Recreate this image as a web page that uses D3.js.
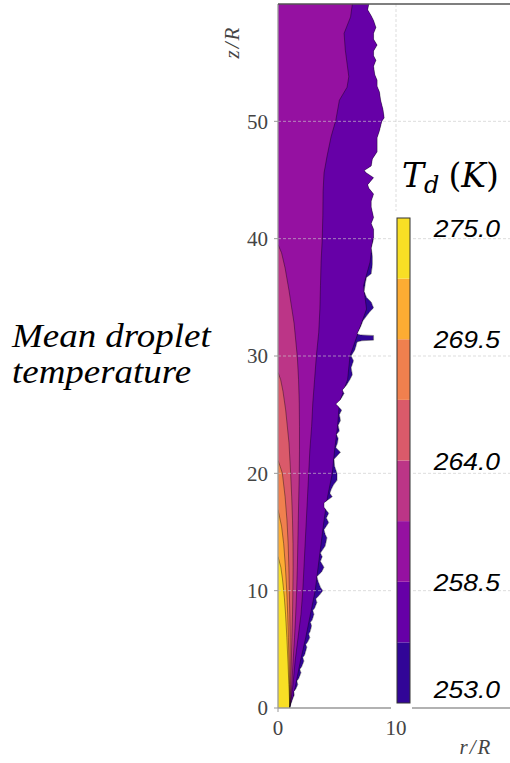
<!DOCTYPE html>
<html>
<head>
<meta charset="utf-8">
<script src="https://cdn.jsdelivr.net/npm/d3@7"></script>
<style>
body { margin: 0; background: white; }
</style>
</head>
<body>
<div id="chart"></div>
<script>
// contour levels of the mean droplet temperature (K), 8 filled bands
var levels = [253, 255.75, 258.5, 261.25, 264, 266.75, 269.5, 272.25, 275];
var cbar_ticks = [253.0, 258.5, 264.0, 269.5, 275.0];
var r_ticks = [0, 10];
var z_ticks = [0, 10, 20, 30, 40, 50];

// outer edge of the spray, pairs of [z/R, r/R]
var spray_edge = [
  [0, 1.02], [0.3, 1.08], [0.8, 1.25], [1.1, 1.38], [1.4, 1.34], [1.6, 1.5], [2, 1.68], [2.3, 1.6],
  [2.5, 1.75], [3, 1.95], [3.3, 1.85], [3.5, 2.0], [4, 2.2], [4.3, 2.1], [4.5, 2.25], [5.2, 2.45],
  [5.4, 2.35], [5.6, 2.5], [6, 2.7], [6.3, 2.6], [6.5, 2.72], [7, 2.85], [7.3, 2.75], [7.5, 2.9],
  [8, 3.05], [8.3, 2.95], [8.5, 3.1], [9, 3.3], [9.3, 3.2], [9.6, 3.5], [10, 3.8], [10.3, 3.6],
  [10.8, 3.4], [11.2, 3.3], [11.6, 3.7], [12, 3.9], [12.5, 3.6], [12.9, 3.75], [13.2, 3.6],
  [13.8, 4.0], [14.5, 4.15], [14.8, 4.0], [15.2, 3.9], [15.8, 4.3], [16.2, 4.1], [16.6, 4.3],
  [17.1, 3.9], [17.5, 3.9], [18, 4.6], [18.3, 4.4], [18.6, 4.5], [19, 4.7], [19.4, 5.0],
  [20, 5.0], [20.6, 4.8], [21.2, 4.75], [21.8, 5.3], [22.2, 4.9], [22.6, 5.05], [23, 5.1],
  [23.3, 4.95], [23.6, 5.2], [24.1, 5.1], [24.5, 5.3], [25, 5.2], [25.4, 5.4], [25.9, 4.9],
  [26.3, 5.3], [26.8, 5.6], [27.1, 5.45], [27.5, 5.8], [28, 6.1], [28.4, 6.3], [29, 6.2],
  [29.6, 6.4], [30, 6.2], [30.5, 6.5], [30.8, 6.6], [31.2, 6.7], [31.3, 7.1], [31.35, 8.1],
  [31.75, 8.1], [31.8, 7.0], [31.9, 6.7], [32.5, 7.0], [33, 7.2], [33.4, 7.5], [33.8, 7.8],
  [34.1, 8.1], [34.6, 7.9], [35, 7.5], [35.5, 7.3], [36.2, 7.4], [36.7, 7.5], [37, 7.9],
  [37.8, 8.0], [38.5, 8.0], [39.2, 7.9], [40, 8.1], [40.8, 8.1], [41.3, 7.9], [41.8, 8.1],
  [42.7, 7.9], [43.2, 7.9], [43.8, 8.1], [44.3, 7.7], [44.6, 7.6], [45.2, 8.1], [45.6, 7.5],
  [45.8, 7.3], [46.2, 7.9], [46.8, 8.0], [47.4, 8.4], [48, 8.4], [48.6, 8.4], [49.2, 8.6],
  [50, 8.8], [50.3, 9.0], [51, 8.9], [51.8, 8.7], [52.5, 8.6], [53, 8.4], [53.5, 8.4],
  [54, 8.2], [54.7, 8.1], [55.2, 8.3], [55.6, 8.1], [56, 8.1], [56.5, 8.4], [57, 8.1],
  [57.5, 8.1], [58, 8.3], [58.6, 8.1], [59, 7.9], [59.5, 7.6], [60, 7.7]
];

// level boundaries, [z/R, r/R]; hotter band lies inside
var bound_255 = [[0, 1.0], [1, 1.3], [2, 1.5], [4, 1.9], [6, 2.35], [8, 2.75], [10, 3.15],
  [12, 3.4], [14, 3.65], [16, 3.9], [18, 4.2], [20, 4.6], [22, 4.8], [24, 5.05], [26, 5.2],
  [28, 5.9], [30, 6.1], [32, 6.8], [34, 7.5], [36, 7.25], [38, 7.8], [40, 8.05], [41, 9.6], [60, 9.6]];
var bound_258 = [[0, 1.0], [1, 1.15], [2, 1.27], [4, 1.45], [6, 1.7], [8, 1.95], [10, 2.1],
  [12, 2.2], [14, 2.3], [16, 2.4], [18, 2.5], [20, 2.6], [22, 2.7], [24, 2.85], [26, 2.95],
  [28, 3.1], [30, 3.25], [32, 3.45], [34, 3.55], [36, 3.6], [38, 3.65], [40, 3.75], [42, 3.8],
  [44, 3.82], [45.6, 3.9], [47, 4.15], [48.7, 4.5], [50.1, 4.9], [51.8, 5.2], [52.9, 5.85],
  [53.8, 6.0], [56.1, 5.7], [57.5, 5.6], [58.9, 6.15], [60, 6.3]];
var bound_261 = [[0, 1.0], [1, 1.1], [2, 1.17], [4, 1.28], [6, 1.4], [8, 1.5], [10, 1.58],
  [12, 1.64], [14, 1.68], [16, 1.72], [18, 1.76], [20, 1.8], [22, 1.82], [24, 1.82], [26, 1.8],
  [28, 1.74], [29.9, 1.64], [32.8, 1.36], [35.6, 0.93], [37.5, 0.6], [38.8, 0.3], [39.5, 0]];
var bound_264 = [[0, 1.0], [1, 1.05], [2, 1.08], [4, 1.13], [6, 1.18], [8, 1.23], [10, 1.26],
  [12, 1.28], [14, 1.27], [16, 1.23], [18, 1.16], [20, 1.07], [22.6, 0.93], [25.4, 0.65],
  [27, 0.42], [28, 0.22], [28.6, 0]];
var bound_266 = [[0, 1.0], [2, 1.02], [4, 1.03], [6, 1.03], [8, 1.0], [10, 0.96], [12, 0.92],
  [14, 0.86], [16, 0.76], [18, 0.6], [20, 0.37], [20.6, 0.18], [21.1, 0]];
var bound_269 = [[0, 1.0], [2, 0.97], [4, 0.93], [6, 0.88], [8, 0.82], [10, 0.74], [12, 0.63],
  [14, 0.48], [15.5, 0.3], [16.9, 0]];
var bound_272 = [[0, 1.0], [1, 0.96], [2, 0.92], [4, 0.84], [6, 0.75], [8, 0.64], [9.4, 0.54],
  [10, 0.48], [11, 0.38], [12, 0.24], [12.9, 0]];

var boundaries = [bound_255, bound_258, bound_261, bound_264, bound_266, bound_269, bound_272];

function draw_chart() {

  var width = 510,
      height = 763;

  var svg = d3.select("#chart").append("svg")
      .attr("width", width)
      .attr("height", height);

  var x = d3.scaleLinear().domain([0, 20]).range([278, 514]);
  var y = d3.scaleLinear().domain([0, 60]).range([708, 4]);
  var cb = d3.scaleLinear().domain([253, 275]).range([703, 218]);

  var serif = "'Liberation Serif', 'Times New Roman', serif";

  function band_color(i) {
    var mid = (levels[i] + levels[i + 1]) / 2;
    return d3.interpolatePlasma((mid - 253) / 22);
  }

  var area = d3.area()
      .x0(x(0))
      .x1(function(d) { return x(d[1]); })
      .y(function(d) { return y(d[0]); });

  var line = d3.line()
      .x(function(d) { return x(d[1]); })
      .y(function(d) { return y(d[0]); });

  svg.append("clipPath").attr("id", "spray")
    .append("path").attr("d", area(spray_edge));

  var g = svg.append("g").attr("clip-path", "url(#spray)");

  // filled bands, coolest first
  [spray_edge].concat(boundaries).forEach(function(b, i) {
    g.append("path")
      .attr("d", area(b))
      .attr("fill", band_color(i));
  });

  boundaries.forEach(function(b) {
    g.append("path")
      .attr("d", line(b))
      .attr("fill", "none")
      .attr("stroke", "#000")
      .attr("stroke-width", 0.5)
      .attr("opacity", 0.75);
  });

  svg.append("path")
    .attr("d", line(spray_edge))
    .attr("fill", "none")
    .attr("stroke", "#000")
    .attr("stroke-width", 0.6)
    .attr("opacity", 0.6);

  // grid
  svg.selectAll(".hgrid").data(z_ticks.slice(1)).enter().append("line")
    .attr("x1", x(0)).attr("x2", width)
    .attr("y1", function(d) { return y(d); }).attr("y2", function(d) { return y(d); })
    .attr("stroke", "#ccc").attr("stroke-width", 0.8)
    .attr("stroke-dasharray", "3,2").attr("opacity", 0.8);

  svg.selectAll(".vgrid").data(r_ticks.slice(1)).enter().append("line")
    .attr("x1", function(d) { return x(d); }).attr("x2", function(d) { return x(d); })
    .attr("y1", y(60)).attr("y2", y(0))
    .attr("stroke", "#ccc").attr("stroke-width", 0.8)
    .attr("stroke-dasharray", "3,2").attr("opacity", 0.8);

  // spines
  svg.append("line").attr("x1", x(0)).attr("x2", x(0)).attr("y1", y(0)).attr("y2", y(60))
    .attr("stroke", "#999").attr("stroke-width", 1.3);
  svg.append("line").attr("x1", x(0)).attr("x2", width).attr("y1", y(0)).attr("y2", y(0))
    .attr("stroke", "#999").attr("stroke-width", 1.3);
  svg.append("line").attr("x1", x(0)).attr("x2", width).attr("y1", y(60)).attr("y2", y(60))
    .attr("stroke", "#555").attr("stroke-width", 1.3);

  // ticks
  svg.selectAll(".ytick").data(z_ticks).enter().append("line")
    .attr("x1", x(0) - 4).attr("x2", x(0))
    .attr("y1", function(d) { return y(d); }).attr("y2", function(d) { return y(d); })
    .attr("stroke", "#999");

  svg.selectAll(".ylab").data(z_ticks).enter().append("text")
    .attr("x", x(0) - 10)
    .attr("y", function(d) { return y(d); })
    .attr("dy", "0.35em")
    .attr("text-anchor", "end")
    .attr("font-family", serif)
    .attr("font-size", "21px")
    .attr("fill", "#444")
    .text(function(d) { return d; });

  svg.selectAll(".xtick").data(r_ticks).enter().append("line")
    .attr("x1", function(d) { return x(d); }).attr("x2", function(d) { return x(d); })
    .attr("y1", y(0)).attr("y2", y(0) + 4)
    .attr("stroke", "#999");

  svg.selectAll(".xlab").data(r_ticks).enter().append("text")
    .attr("x", function(d) { return x(d); })
    .attr("y", y(0) + 27)
    .attr("text-anchor", "middle")
    .attr("font-family", serif)
    .attr("font-size", "21px")
    .attr("fill", "#444")
    .text(function(d) { return d; });

  // axis labels
  svg.append("text")
    .attr("transform", "translate(239,42) rotate(-90)")
    .attr("text-anchor", "middle")
    .attr("font-family", serif)
    .attr("font-style", "italic")
    .attr("font-size", "21px")
    .attr("letter-spacing", "2px")
    .attr("fill", "#444")
    .text("z/R");

  svg.append("text")
    .attr("x", 476).attr("y", 754)
    .attr("text-anchor", "middle")
    .attr("font-family", serif)
    .attr("font-style", "italic")
    .attr("font-size", "21px")
    .attr("letter-spacing", "2px")
    .attr("fill", "#444")
    .text("r/R");

  // colorbar
  svg.append("rect")
    .attr("x", 391).attr("y", 211)
    .attr("width", 21).attr("height", 502)
    .attr("fill", "white");

  svg.selectAll(".cband").data(d3.range(levels.length - 1)).enter().append("rect")
    .attr("x", 397).attr("width", 13)
    .attr("y", function(i) { return cb(levels[i + 1]); })
    .attr("height", function(i) { return cb(levels[i]) - cb(levels[i + 1]); })
    .attr("fill", function(i) { return band_color(i); });

  svg.append("rect")
    .attr("x", 397).attr("y", cb(275))
    .attr("width", 13).attr("height", cb(253) - cb(275))
    .attr("fill", "none").attr("stroke", "#333").attr("stroke-width", 1);

  svg.selectAll(".cblab").data(cbar_ticks).enter().append("text")
    .attr("transform", function(d) {
      var ty = Math.max(229, Math.min(690, cb(d) + 1));
      return "translate(500," + ty + ") scale(1.15,1)";
    })
    .attr("dy", "0.35em")
    .attr("text-anchor", "end")
    .attr("font-family", "'Liberation Sans', Arial, sans-serif")
    .attr("font-style", "italic")
    .attr("font-size", "23px")
    .attr("fill", "#000")
    .text(function(d) { return d.toFixed(1); });

  var title = svg.append("text")
    .attr("x", 402).attr("y", 187)
    .attr("font-family", "'DejaVu Serif', serif")
    .attr("font-size", "33px")
    .attr("fill", "#000");
  title.append("tspan").attr("font-style", "italic").text("T");
  title.append("tspan").attr("font-style", "italic").attr("font-size", "24px").attr("dy", 6).text("d");
  title.append("tspan").attr("dy", -6).attr("dx", 9).text("(");
  title.append("tspan").attr("font-style", "italic").text("K");
  title.append("tspan").text(")");

  // side caption
  var cap = svg.append("g").attr("transform", "translate(12,0) scale(1.12,1)");
  cap.append("text").attr("x", 0).attr("y", 347)
    .attr("font-family", serif)
    .attr("font-style", "italic").attr("font-size", "33px")
    .text("Mean droplet");
  cap.append("text").attr("x", 0).attr("y", 383)
    .attr("font-family", serif)
    .attr("font-style", "italic").attr("font-size", "33px")
    .text("temperature");
}

draw_chart();
</script>
</body>
</html>
